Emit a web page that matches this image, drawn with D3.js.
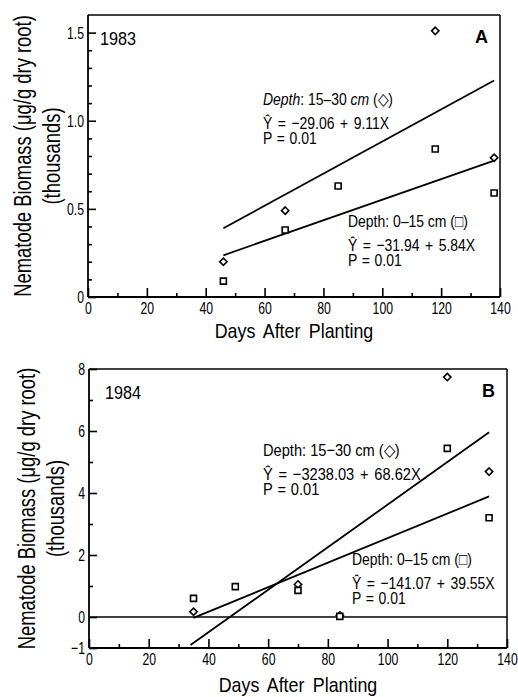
<!DOCTYPE html>
<html>
<head>
<meta charset="utf-8">
<script src="https://cdn.jsdelivr.net/npm/d3@7"></script>
<style>
  body { margin: 0; background: #fff; }
  text { font-family: "Liberation Sans", Arial, sans-serif; fill: #000; }
</style>
</head>
<body>
<svg id="chart" width="518" height="697"></svg>
<script>
// values are nematode biomass in thousands of ug/g dry root

// 1983 (panel A)
const daysA_0to15 = [46, 67, 85, 118, 138];
const biomassA_0to15 = [0.09, 0.38, 0.63, 0.84, 0.59];
const daysA_15to30 = [46, 67, 118, 138];
const biomassA_15to30 = [0.20, 0.49, 1.51, 0.79];
const fitA_0to15 = [-31.94, 5.84];      // intercept, slope (ug/g)
const fitA_15to30 = [-29.06, 9.11];
const fitDaysA = [46, 138];
const yTicksA = [0, 0.5, 1.0, 1.5];
const yTickLabelsA = ["0", "0.5", "1.0", "1.5"];
const yMinorA = [0.1, 0.2, 0.3, 0.4, 0.6, 0.7, 0.8, 0.9, 1.1, 1.2, 1.3, 1.4];

// 1984 (panel B)
const daysB_0to15 = [35, 49, 70, 84, 120, 134];
const biomassB_0to15 = [0.60, 0.98, 0.86, 0.02, 5.44, 3.20];
const daysB_15to30 = [35, 70, 84, 120, 134];
const biomassB_15to30 = [0.17, 1.05, 0.05, 7.74, 4.69];
const fitB_0to15 = [-1410.7, 39.55];    // line as drawn in the figure
const fitB_15to30 = [-3238.03, 68.62];
const fitDaysB_0to15 = [35, 134];
const fitDaysB_15to30 = [34, 134];
const yTicksB = [-1, 0, 2, 4, 6, 8];
const yTickLabelsB = ["\u22121", "0", "2", "4", "6", "8"];
const yMinorB = [1, 3, 5, 7];

// shared x axis
const xTicks = [0, 20, 40, 60, 80, 100, 120, 140];
const xMinor = [10, 30, 50, 70, 90, 110, 130];

const svg = d3.select("#chart");

// squeeze text horizontally, the figure uses a condensed face
function condense(sel, k) {
    sel.each(function () {
        const w = this.getComputedTextLength();
        d3.select(this)
            .attr("textLength", w * k)
            .attr("lengthAdjust", "spacingAndGlyphs");
    });
}

function drawPanel(o) {
    const x = d3.scaleLinear().domain([0, 140]).range([o.left, o.right]);
    const y = d3.scaleLinear().domain(o.yDomain).range([o.bottom, o.top]);
    const g = svg.append("g");

    // ticks point into the plot
    const bottomAxis = g.append("g")
        .attr("transform", `translate(0,${o.bottom})`)
        .call(d3.axisBottom(x).tickValues(xTicks).tickSize(-9).tickPadding(5)
            .tickFormat(d => d));
    const bottomMinor = g.append("g")
        .attr("transform", `translate(0,${o.bottom})`)
        .call(d3.axisBottom(x).tickValues(xMinor).tickSize(-4).tickFormat(""));
    const leftAxis = g.append("g")
        .attr("transform", `translate(${o.left},0)`)
        .call(d3.axisLeft(y).tickValues(o.yTicks).tickSize(-8).tickPadding(4)
            .tickFormat((d, i) => o.yLabels[i]));
    const leftMinor = g.append("g")
        .attr("transform", `translate(${o.left},0)`)
        .call(d3.axisLeft(y).tickValues(o.yMinor).tickSize(-4).tickFormat(""));

    [bottomAxis, bottomMinor, leftAxis, leftMinor].forEach(a => {
        a.select(".domain").remove();
        a.attr("font-family", null).attr("font-size", null);
        a.selectAll(".tick line").attr("stroke", "#000").attr("stroke-width", 1.6);
        a.selectAll(".tick text")
            .attr("font-size", "17px")
            .call(condense, 0.72);
    });

    // frame
    g.append("line").attr("x1", o.left).attr("x2", o.right).attr("y1", o.bottom).attr("y2", o.bottom)
        .attr("stroke", "#000").attr("stroke-width", 2.2);
    g.append("line").attr("x1", o.left).attr("x2", o.left).attr("y1", o.top).attr("y2", o.bottom)
        .attr("stroke", "#000").attr("stroke-width", 1.8);
    g.append("line").attr("x1", o.left).attr("x2", o.right).attr("y1", o.top).attr("y2", o.top)
        .attr("stroke", "#000").attr("stroke-width", 1.5);
    g.append("line").attr("x1", o.right).attr("x2", o.right).attr("y1", o.top).attr("y2", o.bottom)
        .attr("stroke", "#000").attr("stroke-width", 1.5);

    if (o.zeroLine) {
        g.append("line").attr("x1", x(0)).attr("x2", x(140)).attr("y1", y(0)).attr("y2", y(0))
            .attr("stroke", "#000").attr("stroke-width", 1.6);
    }

    // regression lines
    const line = fit => d3.line()
        .x(d => x(d))
        .y(d => y((fit[0] + fit[1] * d) / 1000));
    o.fits.forEach(f => {
        g.append("path")
            .attr("d", line(f.coef)(f.days))
            .attr("fill", "none")
            .attr("stroke", "#000")
            .attr("stroke-width", 1.8);
    });

    // points
    const square = d3.symbol().type(d3.symbolSquare).size(36);
    const diamond = d3.symbol().type(d3.symbolDiamond2).size(34);
    o.series.forEach(s => {
        g.selectAll(null)
            .data(s.days.map((d, i) => [d, s.values[i]]))
            .join("path")
            .attr("d", s.shape === "square" ? square : diamond)
            .attr("transform", d => `translate(${x(d[0])},${y(d[1])})`)
            .attr("fill", "#fff")
            .attr("stroke", "#000")
            .attr("stroke-width", 1.6);
    });

    // y axis title
    const cy = (o.top + o.bottom) / 2;
    g.append("text")
        .attr("transform", `translate(${o.titleX},${cy}) rotate(-90)`)
        .attr("text-anchor", "middle")
        .attr("font-size", "23px")
        .text("Nematode Biomass (\u03bcg/g dry root)")
        .call(condense, 0.8);
    g.append("text")
        .attr("transform", `translate(${o.titleX + 29},${cy}) rotate(-90)`)
        .attr("text-anchor", "middle")
        .attr("font-size", "23px")
        .text("(thousands)")
        .call(condense, 0.8);

    // x axis title
    g.append("text")
        .attr("x", (o.left + o.right) / 2)
        .attr("y", o.xTitleY)
        .attr("text-anchor", "middle")
        .attr("font-size", "21px")
        .attr("word-spacing", "4px")
        .text("Days After Planting")
        .call(condense, 0.85);

    // year and panel letter
    g.append("text")
        .attr("x", o.left + o.yearDx)
        .attr("y", o.top + 30)
        .attr("font-size", "18px")
        .text(o.year)
        .call(condense, 0.9);
    g.append("text")
        .attr("x", o.right - 12)
        .attr("y", o.top + 28)
        .attr("text-anchor", "end")
        .attr("font-weight", "bold")
        .attr("font-size", "18px")
        .text(o.letter);

    // equation notes
    o.notes.forEach(n => {
        const t1 = g.append("text")
            .attr("x", n.x).attr("y", n.y)
            .attr("font-size", "17px");
        if (n.italic) {
            t1.append("tspan").attr("font-style", "italic").text("Depth");
            t1.append("tspan").text(": " + n.depth + " ");
            t1.append("tspan").attr("font-style", "italic").text("cm");
            t1.append("tspan").text(" (" + n.mark + ")");
        } else {
            t1.text("Depth: " + n.depth + " cm (" + n.mark + ")");
        }
        t1.call(condense, n.k);
        g.append("text")
            .attr("x", n.x).attr("y", n.y + 24)
            .attr("font-size", "17px")
            .attr("word-spacing", "2px")
            .text(n.eq)
            .call(condense, n.k);
        g.append("text")
            .attr("x", n.x).attr("y", n.y + 39)
            .attr("font-size", "17px")
            .attr("word-spacing", "1px")
            .text("P = 0.01")
            .call(condense, n.k);
    });
}

drawPanel({
    left: 88, right: 500, top: 15, bottom: 297,
    yDomain: [0, 1.6], yTicks: yTicksA, yLabels: yTickLabelsA, yMinor: yMinorA,
    titleX: 31, xTitleY: 338, year: "1983", yearDx: 12, letter: "A",
    fits: [
        { coef: fitA_15to30, days: fitDaysA },
        { coef: fitA_0to15, days: fitDaysA }
    ],
    series: [
        { days: daysA_15to30, values: biomassA_15to30, shape: "diamond" },
        { days: daysA_0to15, values: biomassA_0to15, shape: "square" }
    ],
    notes: [
        { x: 263, y: 105, k: 0.82, italic: true, depth: "15\u201330", mark: "\u25c7", eq: "\u0176 = \u221229.06 + 9.11X" },
        { x: 348, y: 227, k: 0.82, italic: false, depth: "0\u201315", mark: "\u25a1", eq: "\u0176 = \u221231.94 + 5.84X" }
    ]
});

drawPanel({
    left: 89, right: 507, top: 369, bottom: 648,
    yDomain: [-1, 8], yTicks: yTicksB, yLabels: yTickLabelsB, yMinor: yMinorB,
    titleX: 35, xTitleY: 692, year: "1984", yearDx: 16, letter: "B", zeroLine: true,
    fits: [
        { coef: fitB_15to30, days: fitDaysB_15to30 },
        { coef: fitB_0to15, days: fitDaysB_0to15 }
    ],
    series: [
        { days: daysB_15to30, values: biomassB_15to30, shape: "diamond" },
        { days: daysB_0to15, values: biomassB_0to15, shape: "square" }
    ],
    notes: [
        { x: 263, y: 456, k: 0.86, italic: false, depth: "15\u221230", mark: "\u25c7", eq: "\u0176 = \u22123238.03 + 68.62X" },
        { x: 352, y: 565, k: 0.82, italic: false, depth: "0\u201315", mark: "\u25a1", eq: "\u0176 = \u2212141.07 + 39.55X" }
    ]
});
</script>
</body>
</html>
